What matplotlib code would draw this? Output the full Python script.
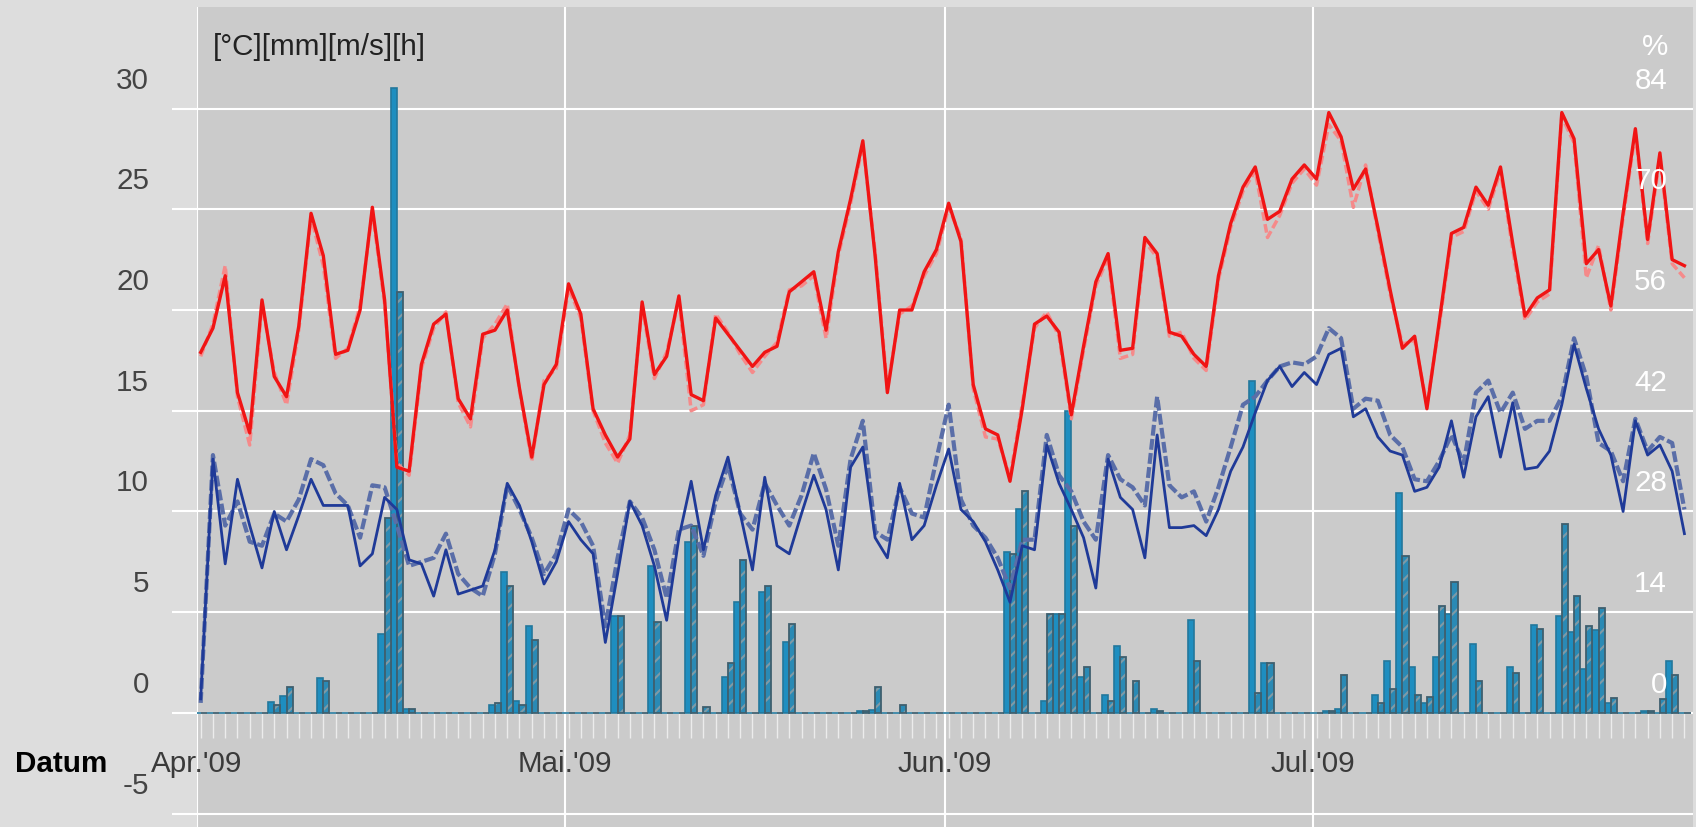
import numpy as np
import matplotlib
matplotlib.use("Agg")
import matplotlib.pyplot as plt
from matplotlib.transforms import blended_transform_factory, offset_copy

plt.rcParams["font.family"] = ["Liberation Sans", "DejaVu Sans"]
plt.rcParams["hatch.linewidth"] = 1.5

# axis labels
months = ["Apr.'09", "Mai.'09", "Jun.'09", "Jul.'09"]
month_start = [0, 30, 61, 91]          # day index of the 1st of each month
left_ticks = [-5, 0, 5, 10, 15, 20, 25, 30]
right_ticks = [0, 14, 28, 42, 56, 70, 84]   # humidity %, same rows as 0..30

# daily values, 1 Apr - 31 Jul 2009
t_max_1 = [17.9, 19.1, 21.7, 15.9, 13.9, 20.5, 16.7, 15.7, 19.2, 24.8,
           22.7, 17.8, 18.0, 20.0, 25.1, 20.5, 12.2, 12.0, 17.3, 19.3,
           19.8, 15.6, 14.6, 18.8, 19.0, 20.0, 16.1, 12.7, 16.3, 17.3,
           21.3, 19.8, 15.1, 13.8, 12.7, 13.6, 20.4, 16.8, 17.7, 20.7,
           15.8, 15.5, 19.6, 18.8, 18.0, 17.2, 17.9, 18.2, 20.9, 21.4,
           21.9, 19.0, 22.9, 25.5, 28.4, 22.7, 15.9, 20.0, 20.0, 21.9,
           23.0, 25.3, 23.4, 16.3, 14.1, 13.8, 11.5, 15.1, 19.3, 19.7,
           18.9, 14.8, 18.2, 21.4, 22.8, 18.0, 18.1, 23.6, 22.8, 18.9,
           18.7, 17.8, 17.2, 21.7, 24.3, 26.1, 27.1, 24.5, 24.9, 26.5,
           27.2, 26.5, 29.8, 28.6, 26.0, 27.0, 24.1, 21.0, 18.1, 18.7,
           15.1, 19.4, 23.8, 24.1, 26.1, 25.2, 27.1, 23.3, 19.7, 20.6,
           21.0, 29.8, 28.5, 22.3, 23.0, 20.2, 24.8, 29.0, 23.5, 27.8,
           22.5, 22.2]

t_max_2 = [17.7, 19.3, 22.2, 15.7, 13.3, 20.3, 16.9, 15.3, 19.0, 24.6,
           22.2, 17.6, 18.1, 20.2, 24.9, 20.3, 12.4, 11.8, 17.1, 19.1,
           19.9, 15.4, 14.2, 18.6, 19.3, 20.3, 16.0, 12.5, 16.5, 17.1,
           21.1, 19.6, 15.0, 13.4, 12.4, 13.8, 20.2, 16.6, 17.9, 20.5,
           15.0, 15.3, 19.8, 18.9, 17.8, 16.9, 17.7, 18.4, 21.0, 21.2,
           21.7, 18.6, 22.7, 25.3, 28.2, 22.9, 16.1, 19.8, 20.2, 21.7,
           22.8, 25.1, 23.6, 16.1, 13.7, 13.6, 11.7, 15.3, 19.1, 19.9,
           18.7, 14.6, 18.0, 21.2, 22.6, 17.6, 17.8, 23.4, 22.6, 18.7,
           18.9, 17.6, 17.0, 21.5, 24.1, 25.9, 26.9, 23.6, 24.7, 26.3,
           27.0, 26.2, 29.2, 28.4, 25.1, 27.2, 23.9, 20.8, 18.3, 18.5,
           15.3, 19.2, 23.6, 23.9, 25.9, 25.0, 26.9, 23.0, 19.5, 20.4,
           20.8, 29.6, 28.3, 21.6, 23.2, 20.0, 24.6, 28.8, 23.3, 27.6,
           22.3, 21.6]

t_min_1 = [0.7, 12.6, 7.4, 11.6, 9.3, 7.2, 10.0, 8.1, 9.8, 11.6,
           10.3, 10.3, 10.3, 7.3, 7.9, 10.7, 10.1, 7.6, 7.4, 5.8,
           8.1, 5.9, 6.1, 6.3, 8.1, 11.4, 10.3, 8.5, 6.4, 7.5,
           9.5, 8.6, 7.9, 3.5, 6.9, 10.5, 9.3, 7.3, 4.6, 8.7,
           11.5, 8.1, 10.8, 12.7, 9.9, 7.1, 11.7, 8.3, 7.9, 9.9,
           11.8, 10.1, 7.1, 12.2, 13.2, 8.7, 7.7, 11.4, 8.6, 9.3,
           11.3, 13.1, 10.1, 9.5, 8.5, 7.1, 5.5, 8.3, 8.1, 13.3,
           11.4, 10.1, 8.7, 6.2, 12.6, 10.7, 10.1, 7.7, 13.8, 9.2,
           9.2, 9.3, 8.8, 10.1, 12.0, 13.2, 14.9, 16.5, 17.2, 16.2,
           16.9, 16.3, 17.8, 18.1, 14.7, 15.1, 13.7, 13.0, 12.8, 11.0,
           11.2, 12.2, 14.5, 11.7, 14.7, 15.7, 12.7, 15.4, 12.1, 12.2,
           13.0, 15.3, 18.3, 16.1, 14.1, 12.8, 10.0, 14.5, 12.8, 13.3,
           12.0, 8.9]

t_min_2 = [0.5, 12.8, 9.3, 10.5, 8.5, 8.3, 9.9, 9.5, 10.6, 12.6,
           12.3, 10.9, 10.3, 8.7, 11.3, 11.2, 9.3, 7.3, 7.5, 7.7,
           8.9, 6.9, 6.2, 5.8, 7.9, 11.3, 10.1, 8.7, 6.9, 7.9,
           10.1, 9.5, 8.3, 4.3, 7.7, 10.5, 9.7, 8.1, 5.7, 9.1,
           9.3, 7.8, 10.5, 12.3, 9.9, 9.1, 11.4, 10.3, 9.3, 10.8,
           12.9, 11.1, 8.3, 12.6, 14.5, 9.0, 8.6, 11.2, 9.9, 9.7,
           12.6, 15.3, 10.6, 9.3, 8.7, 7.7, 6.2, 8.6, 8.6, 13.8,
           11.8, 11.0, 9.5, 8.6, 12.8, 11.6, 11.2, 10.3, 15.7, 11.3,
           10.7, 11.0, 9.5, 11.2, 13.2, 15.3, 15.7, 16.5, 17.2, 17.4,
           17.3, 17.7, 19.1, 18.6, 15.1, 15.6, 15.5, 13.8, 13.2, 11.6,
           11.5, 12.5, 13.8, 12.4, 15.9, 16.5, 14.9, 15.9, 14.1, 14.5,
           14.5, 15.7, 18.6, 16.7, 13.4, 13.0, 11.5, 14.6, 13.0, 13.7,
           13.4, 10.1]

rain_1 = [0, 0, 0, 0, 0, 0, 0.55, 0.83, 0, 0,
          1.75, 0, 0, 0, 0, 3.9, 31.0, 0.2, 0, 0,
          0, 0, 0, 0, 0.4, 7.0, 0.6, 4.3, 0, 0,
          0, 0, 0, 0, 4.8, 0, 0, 7.3, 0, 0,
          8.5, 0, 0, 1.8, 5.5, 0, 6.0, 0, 3.5, 0,
          0, 0, 0, 0, 0.1, 0.15, 0, 0, 0, 0,
          0, 0, 0, 0, 0, 0, 8.0, 10.1, 0, 0.6,
          4.9, 15.0, 1.8, 0, 0.9, 3.3, 0, 0, 0.2, 0,
          0, 4.6, 0, 0, 0, 0, 16.5, 2.5, 0, 0,
          0, 0, 0.1, 0.2, 0, 0, 0.9, 2.6, 10.9, 2.3,
          0.5, 2.8, 4.9, 0, 3.4, 0, 0, 2.3, 0, 4.35,
          0, 4.8, 4.0, 2.2, 4.1, 0.5, 0, 0, 0.1, 0,
          2.6, 0]

rain_2 = [0, 0, 0, 0, 0, 0, 0.4, 1.3, 0, 0,
          1.6, 0, 0, 0, 0, 9.7, 20.9, 0.2, 0, 0,
          0, 0, 0, 0, 0.5, 6.3, 0.4, 3.6, 0, 0,
          0, 0, 0, 0, 4.8, 0, 0, 4.5, 0, 0,
          9.3, 0.3, 0, 2.5, 7.6, 0, 6.3, 0, 4.4, 0,
          0, 0, 0, 0, 0.1, 1.3, 0, 0.4, 0, 0,
          0, 0, 0, 0, 0, 0, 7.9, 11.0, 0, 4.9,
          4.9, 9.3, 2.3, 0, 0.6, 2.8, 1.6, 0, 0.1, 0,
          0, 2.6, 0, 0, 0, 0, 1.0, 2.5, 0, 0,
          0, 0, 0.1, 1.9, 0, 0, 0.5, 1.2, 7.8, 0.9,
          0.8, 5.3, 6.5, 0, 1.6, 0, 0, 2.0, 0, 4.15,
          0, 9.4, 5.8, 4.3, 5.2, 0.75, 0, 0, 0.1, 0.7,
          1.9, 0]

day = np.arange(len(t_max_1))
x = day + 0.3

W, H = 1696, 827
fig = plt.figure(figsize=(W / 100, H / 100), dpi=100, facecolor="#dddddd")
ax = fig.add_axes([197 / W, 0, (1693 - 197) / W, (H - 7) / H])
ax.set_facecolor("#cbcbcb")
ax.set_xlim(0, 122)
ax.set_ylim(-5.66, 35.04)
for s in ax.spines.values():
    s.set_visible(False)

# grid + tick marks
ax.set_yticks(left_ticks)
ax.set_xticks(month_start)
ax.set_xticks(x, minor=True)
ax.spines["bottom"].set_position(("data", 0))
ax.grid(True, which="major", color="white", lw=1.5)
ax.set_axisbelow(True)
ax.tick_params(axis="y", which="major", length=18, width=1.5, color="white",
               direction="out", labelleft=False)
ax.tick_params(axis="x", which="major", length=0, labelbottom=False)
ax.tick_params(axis="x", which="minor", length=18, width=1.0, color="#ececec",
               direction="out")

# precipitation bars (two stations)
bar_col = "#1e8ec0"
ax.bar(x - 0.25, rain_1, width=0.5, color=bar_col, edgecolor="#23789c",
       lw=1.2, zorder=2)
ax.bar(x + 0.25, rain_2, width=0.5, color="#2a8ab5", edgecolor="#7f9aa6",
       hatch="//", lw=0, zorder=2)
ax.bar(x + 0.25, rain_2, width=0.5, fill=False, edgecolor="#3f5f6e",
       lw=1.3, zorder=2.1)

# temperature lines
ax.plot(x, t_max_2, color="#f58a8a", lw=2.5, dashes=(2.5, 1), zorder=3)
ax.plot(x, t_max_1, color="#f01414", lw=2.4, zorder=4)
ax.plot(x, t_min_2, color="#5a6ea8", lw=3.0, dashes=(2.6, 0.8), zorder=3)
ax.plot(x, t_min_1, color="#1f3a98", lw=2.0, zorder=4)

fs = 21.3
# left value labels sit above their grid lines
tr = blended_transform_factory(fig.transFigure, ax.transData)
tr_up = offset_copy(tr, fig=fig, y=20, units="dots")
for v in left_ticks:
    fig.text(149 / W, v, str(v), transform=tr_up, ha="right", va="baseline",
             fontsize=fs, color="#444444")
for v, r in zip(left_ticks[1:], right_ticks):
    fig.text(1667 / W, v, str(r), transform=tr_up, ha="right", va="baseline",
             fontsize=fs, color="white", zorder=5)

fig.text(1668 / W, 1 - 55 / H, "%", ha="right", va="baseline", fontsize=fs,
         color="white")
fig.text(213 / W, 1 - 55 / H, "[°C][mm][m/s][h]", ha="left", va="baseline",
         fontsize=fs, color="#222222")

for m, lab in zip(month_start, months):
    ax.text(m, -2.93, lab, ha="center", va="baseline", fontsize=fs,
            color="#3a3a3a", clip_on=False)
fig.text(15 / W, 1 - 772 / H, "Datum", ha="left", va="baseline", fontsize=fs,
         fontweight="bold", color="black")

fig.savefig("out.png", dpi=100, facecolor=fig.get_facecolor())
